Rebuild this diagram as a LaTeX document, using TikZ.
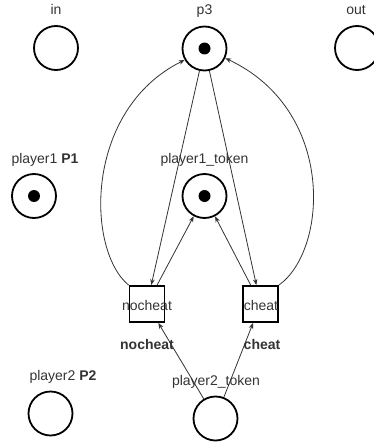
\documentclass[tikz,border=0pt]{standalone}
\usepackage{fontspec}
\setmainfont{Liberation Sans}
\usetikzlibrary{arrows.meta}
\begin{document}
\begin{tikzpicture}[x=1pt,y=-1pt,
  place/.style={draw,circle,line width=1.8pt,minimum size=44pt,inner sep=0pt},
  transition/.style={draw,rectangle,line width=1.8pt,minimum width=35pt,minimum height=36pt,inner sep=0pt},
  flow/.style={draw=black!80,line width=0.8pt,-{Stealth[length=6pt,width=4.5pt]}},
  lbl/.style={anchor=base,inner sep=0pt,text=black!80,font=\fontsize{14}{16}\selectfont}]
\useasboundingbox (0,0) rectangle (374,444);
% places
\node[place] (in) at (56,48) {};
\node[place] (p3) at (204.5,48.5) {};
\node[place] (out) at (357,48) {};
\node[place] (player1) at (34,196) {};
\node[place] (player1token) at (204.5,196) {};
\node[place] (player2) at (50.5,413.5) {};
\node[place] (player2token) at (215.5,418.5) {};
% transitions
\node[transition] (nocheat) at (147,304) {};
\node[transition] (cheat) at (260.5,304) {};
% tokens
\fill (p3) circle[radius=6];
\fill (player1) circle[radius=6];
\fill (player1token) circle[radius=6];
% labels
\node[lbl] (inlbl) at (56,15) {in};
\node[lbl] (p3lbl) at (204.5,15) {p3};
\node[lbl] (outlbl) at (356,15) {out};
\node[lbl] (player1lbl) at (45,163) {player1 \textbf{P1}};
\node[lbl] (player1tokenlbl) at (204.5,163) {player1\_token};
\node[lbl] (nocheatin) at (147,310) {nocheat};
\node[lbl] (cheatin) at (261,310) {cheat};
\node[lbl] (nocheatlbl) at (147,349) {\textbf{nocheat}};
\node[lbl] (cheatlbl) at (262,349) {\textbf{cheat}};
\node[lbl] (player2lbl) at (63,380) {player2 \textbf{P2}};
\node[lbl] (player2tokenlbl) at (216,385) {player2\_token};
% arcs
\draw[flow] (p3) -- (nocheat);
\draw[flow] (p3) -- (cheat);
\draw[flow] (nocheat.north west)
  .. controls (86,250) and (84,110) .. (p3.210);
\draw[flow] (cheat.north east)
  .. controls (328,250) and (336,110) .. (p3.335);
\draw[flow] (nocheat) -- (player1token);
\draw[flow] (cheat) -- (player1token);
\draw[flow] (player2token) -- (nocheat);
\draw[flow] (player2token) -- (cheat);
\end{tikzpicture}
\end{document}
